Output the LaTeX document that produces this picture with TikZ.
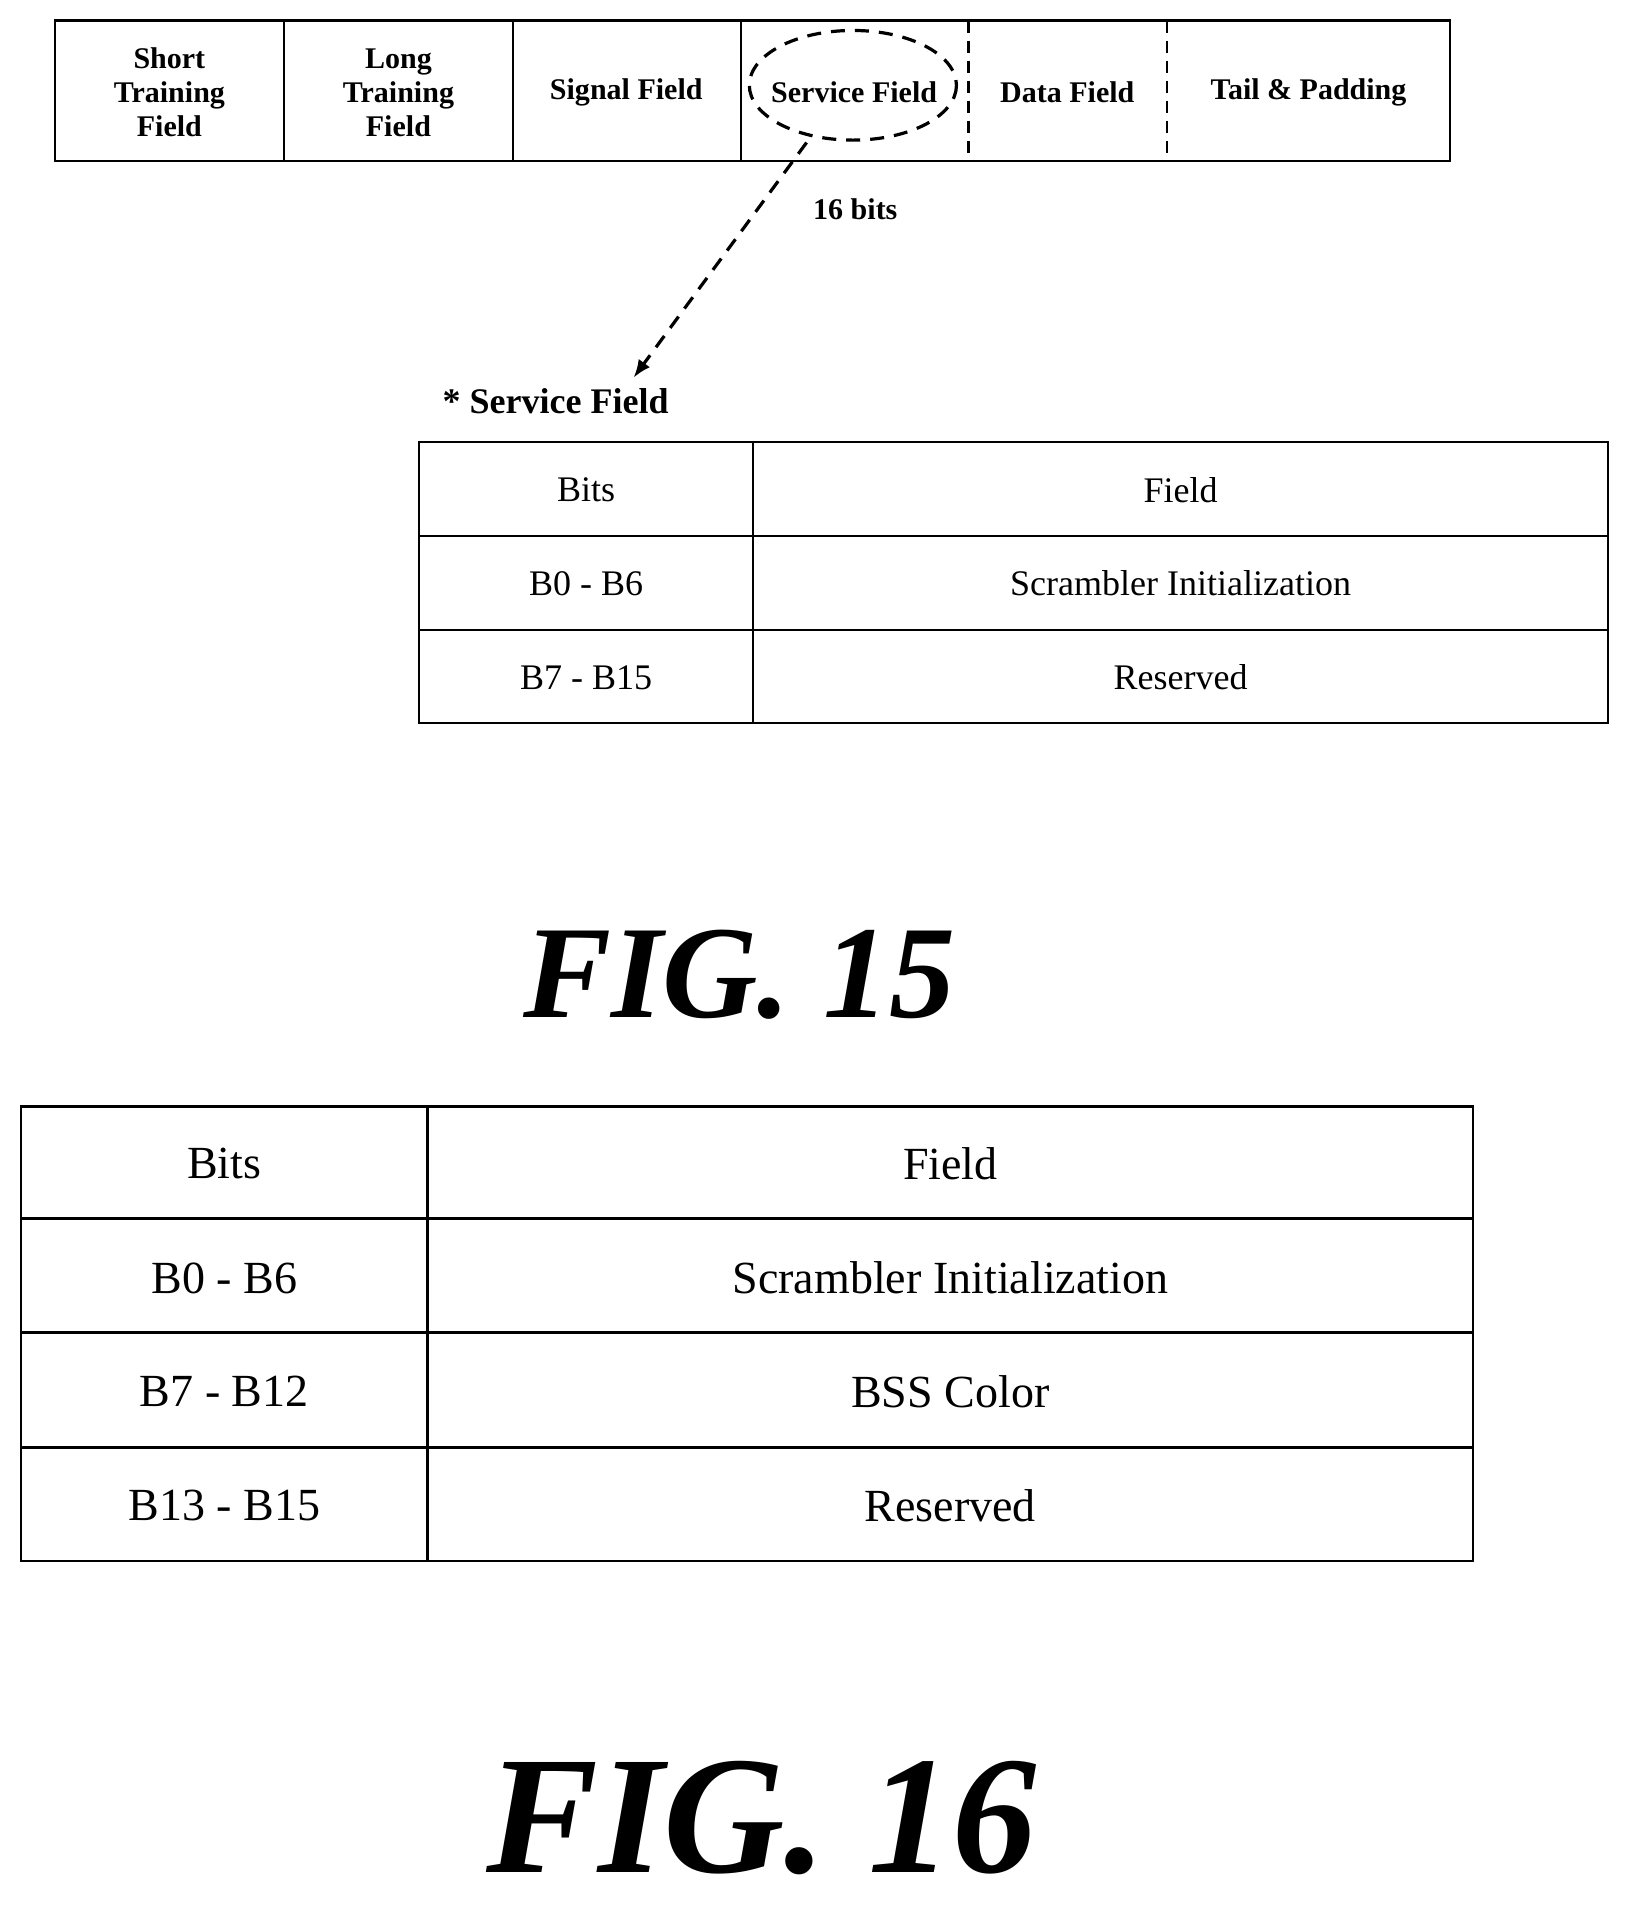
\documentclass[tikz,border=0pt]{standalone}
\usepackage{fontspec}
\setmainfont{Liberation Serif}
\usetikzlibrary{arrows.meta}
\begin{document}
\begin{tikzpicture}[x=0.609pt,y=-0.609pt,
 hb/.style={font=\bfseries\fontsize{15}{17}\selectfont,align=center},
 t1/.style={font=\fontsize{18}{20}\selectfont},
 t2/.style={font=\fontsize{23}{26}\selectfont},
 fig/.style={font=\bfseries\itshape\fontsize{66}{70}\selectfont},
 dsh/.style={line width=1.6pt,dash pattern=on 7pt off 5pt}]
\useasboundingbox (0,0) rectangle (1336,1566);
% top bar
\draw[line width=1.3pt] (45,17) rectangle (1190,132);
\foreach \x in {233,421,608} \draw[line width=1.1pt] (\x,17) -- (\x,132);
\foreach \x in {795,958} \draw[line width=1.2pt,dash pattern=on 6pt off 4pt] (\x,17) -- (\x,132);
\node[hb] (stf) at (139,76) {Short\\Training\\Field};
\node[hb] (ltf) at (327,76) {Long\\Training\\Field};
\node[hb] (sig) at (514,76) {Signal Field};
\node[hb] (svc) at (701,76) {Service Field};
\node[hb] (dat) at (876,76) {Data Field};
\node[hb] (tail) at (1074,76) {Tail \& Padding};
\draw[dsh] (700,70) ellipse [x radius=85,y radius=45];
\coordinate (as) at (662,117);
\node[font=\bfseries\fontsize{18}{19}\selectfont,anchor=south west,inner sep=0] (sf) at (363,340) {* Service Field};
\draw[dsh,-{Latex[length=9pt,width=7pt]}] (as) -- (520,310);
\node[hb] (bits) at (702,172) {16 bits};
% table 1
\draw[line width=1pt] (344,363) rectangle (1320,593);
\draw[line width=1pt] (618,363) -- (618,593);
\draw[line width=1.2pt] (344,440) -- (1320,440) (344,517) -- (1320,517);
\node[t1] (a1) at (481,402) {Bits};
\node[t1] (a2) at (969,402) {Field};
\node[t1] (b1) at (481,479) {B0 - B6};
\node[t1] (b2) at (969,479) {Scrambler Initialization};
\node[t1] (c1) at (481,556) {B7 - B15};
\node[t1] (c2) at (969,556) {Reserved};
\node[fig] (f15) at (607,800) {FIG. 15};
% table 2
\draw[line width=1.2pt] (17,908) rectangle (1209,1281);
\draw[line width=1.2pt] (351,908) -- (351,1281);
\draw[line width=1.5pt] (17,1000) -- (1209,1000) (17,1094) -- (1209,1094) (17,1188) -- (1209,1188);
\node[t2] (d1) at (184,955) {Bits};
\node[t2] (d2) at (780,955) {Field};
\node[t2] (e1) at (184,1049) {B0 - B6};
\node[t2] (e2) at (780,1049) {Scrambler Initialization};
\node[t2] (g1) at (184,1142) {B7 - B12};
\node[t2] (g2) at (780,1142) {BSS Color};
\node[t2] (h1) at (184,1236) {B13 - B15};
\node[t2] (h2) at (780,1236) {Reserved};
\node[font=\bfseries\itshape\fontsize{84}{90}\selectfont] (f16) at (625,1492) {FIG. 16};
\end{tikzpicture}
\end{document}
